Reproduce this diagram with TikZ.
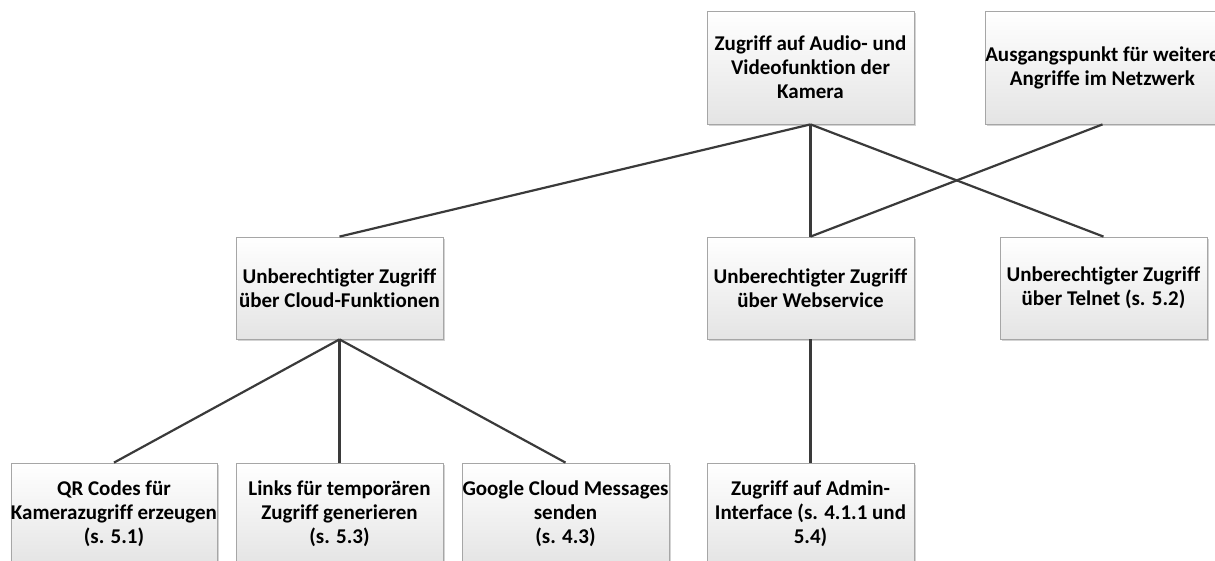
\documentclass[tikz,border=0pt]{standalone}
\usepackage{fontspec}
\setmainfont{Carlito}[Ligatures=NoCommon]
\usetikzlibrary{shadows}
\definecolor{boxborder}{HTML}{A6A6A6}
\definecolor{boxbottom}{HTML}{E4E4E4}
\definecolor{linecol}{HTML}{3A3A3A}
\tikzset{
  box/.style={draw=boxborder, line width=0.8pt, top color=white, bottom color=boxbottom,
    drop shadow={shadow xshift=1.8pt, shadow yshift=-1.8pt, opacity=0.35, fill=gray},
    align=center, inner sep=0pt, font=\fontsize{21}{24}\selectfont\bfseries},
  link/.style={draw=linecol, line width=2.2pt}
}
\begin{document}
\begin{tikzpicture}[x=1pt,y=-1pt]
\useasboundingbox (0,0) rectangle (1215,561);
% top row
\node[box, minimum width=207pt, minimum height=113pt] (A) at (810.5,67.5) {Zugriff auf Audio- und\\Videofunktion der\\Kamera};
\node[box, minimum width=227pt, minimum height=113pt] (B) at (1102.5,67.5) {Ausgangspunkt für weitere\\Angriffe im Netzwerk};
% middle row
\node[box, minimum width=207pt, minimum height=102pt] (C) at (339.5,288) {Unberechtigter Zugriff\\über Cloud-Funktionen};
\node[box, minimum width=207pt, minimum height=102pt] (W) at (810.5,288) {Unberechtigter Zugriff\\über Webservice};
\node[box, minimum width=207pt, minimum height=102pt] (T) at (1103.5,288) {Unberechtigter Zugriff\\über Telnet (s. 5.2)};
% bottom row
\node[box, minimum width=206pt, minimum height=102pt] (Q) at (114,514) {QR Codes für\\Kamerazugriff erzeugen\\(s. 5.1)};
\node[box, minimum width=207pt, minimum height=102pt] (L) at (339.5,514) {Links für temporären\\Zugriff generieren\\(s. 5.3)};
\node[box, minimum width=207pt, minimum height=102pt] (G) at (565.5,514) {Google Cloud Messages\\senden\\(s. 4.3)};
\node[box, minimum width=207pt, minimum height=102pt] (D) at (810.5,514) {Zugriff auf Admin-\\Interface (s. 4.1.1 und\\5.4)};
% connectors
\draw[link] (A.south) -- (C.north);
\draw[link] (A.south) -- (W.north);
\draw[link] (A.south) -- (T.north);
\draw[link] (B.south) -- (W.north);
\draw[link] (C.south) -- (Q.north);
\draw[link] (C.south) -- (L.north);
\draw[link] (C.south) -- (G.north);
\draw[link] (W.south) -- (D.north);
\end{tikzpicture}
\end{document}
